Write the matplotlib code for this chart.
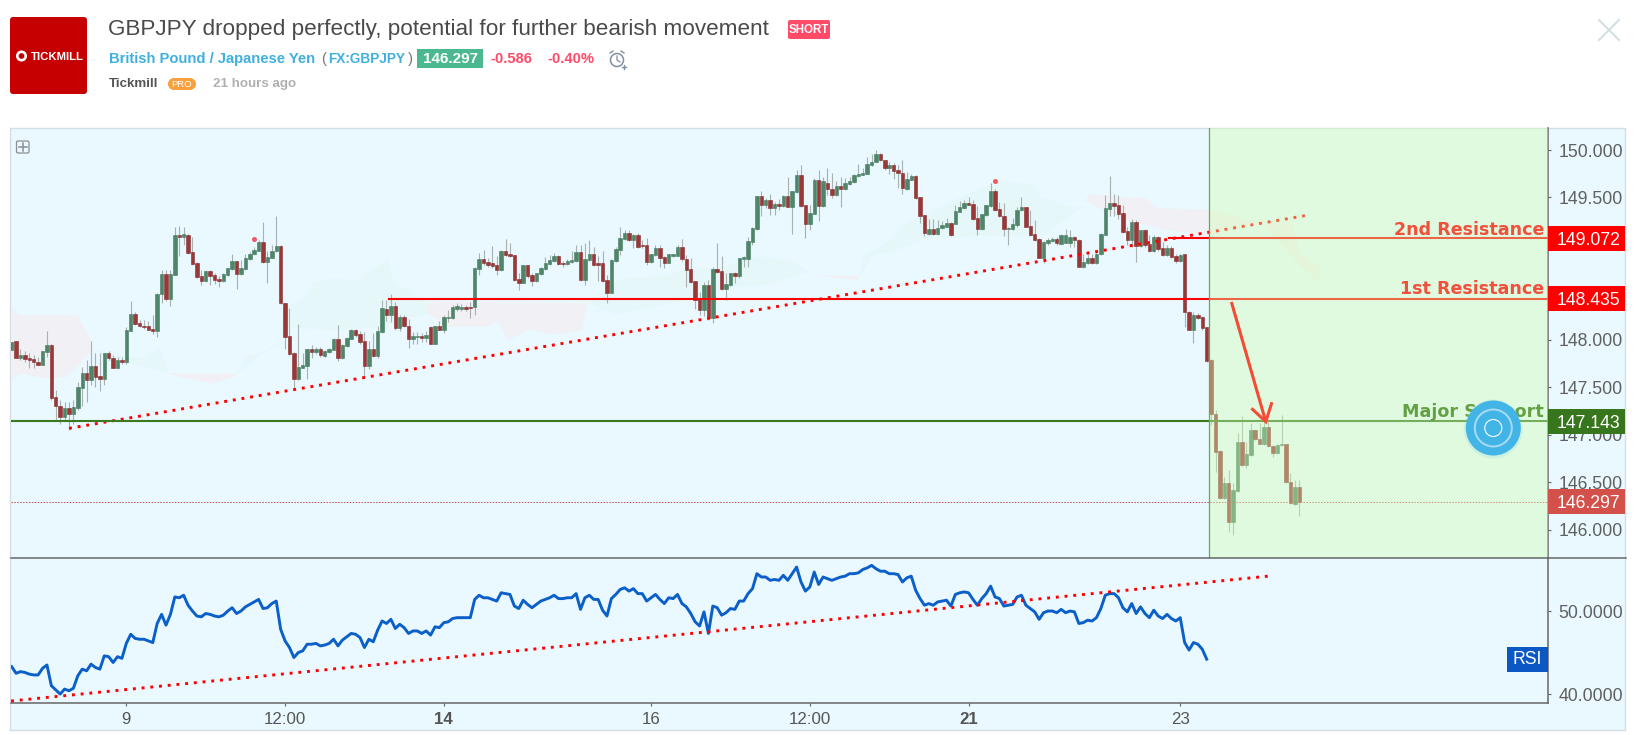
import numpy as np
import matplotlib
matplotlib.use("Agg")
import matplotlib.pyplot as plt
from matplotlib.patches import Rectangle, Circle, FancyBboxPatch

plt.rcParams['font.family'] = ['Liberation Sans', 'DejaVu Sans']

W, H = 1647, 735

# 4h candles
opens = [147.89,147.99,147.81,147.84,147.81,147.80,147.77,147.74,147.87,147.95,
147.40,147.31,147.19,147.28,147.22,147.28,147.49,147.65,147.58,147.73,
147.62,147.59,147.86,147.81,147.71,147.79,147.77,148.09,148.27,148.18,
148.15,148.15,148.12,148.09,148.48,148.69,148.43,148.68,149.10,149.08,
149.11,148.93,148.81,148.67,148.62,148.73,148.68,148.64,148.62,148.68,
148.75,148.83,148.69,148.75,148.85,148.90,148.94,149.03,148.82,148.86,
148.94,148.99,148.39,148.04,147.86,147.59,147.71,147.73,147.90,147.87,
147.90,147.83,147.87,147.89,148.01,147.81,147.94,148.01,148.11,148.06,
147.99,147.73,147.90,147.83,148.08,148.33,148.26,148.36,148.13,148.24,
148.15,148.01,148.03,148.04,148.02,148.14,147.96,148.15,148.11,148.23,
148.23,148.33,148.33,148.35,148.35,148.35,148.75,148.85,148.82,148.81,
148.79,148.74,148.94,148.90,148.89,148.64,148.60,148.79,148.68,148.62,
148.69,148.75,148.80,148.83,148.88,148.81,148.80,148.82,148.83,148.93,
148.63,148.84,148.91,148.81,148.81,148.63,148.49,148.83,148.95,149.06,
149.13,149.05,149.11,149.00,149.00,148.82,148.89,148.97,148.87,148.81,
148.88,148.88,148.98,148.85,148.75,148.62,148.44,148.32,148.58,148.23,
148.75,148.73,148.54,148.58,148.70,148.67,148.85,148.85,149.03,149.17,
149.52,149.42,149.47,149.39,149.43,149.41,149.52,149.40,149.56,149.74,
149.42,149.22,149.33,149.68,149.41,149.65,149.59,149.53,149.62,149.59,
149.64,149.66,149.73,149.74,149.75,149.84,149.87,149.96,149.89,149.81,
149.84,149.79,149.76,149.59,149.68,149.73,149.50,149.32,149.12,149.17,
149.12,149.18,149.19,149.23,149.22,149.35,149.39,149.44,149.43,149.28,
149.17,149.32,149.41,149.57,149.38,149.30,149.17,149.17,149.21,149.37,
149.40,149.20,149.12,149.06,148.86,149.02,149.04,149.06,149.01,149.02,
149.02,149.08,149.05,148.77,148.81,148.86,148.81,148.90,149.11,149.38,
149.44,149.42,149.34,149.15,149.05,149.24,148.99,149.16,149.01,148.94,
149.08,148.97,148.89,148.97,148.88,148.83,148.90,148.29,148.11,148.26,
148.24,148.14,147.79,147.22,146.83,146.34,146.49,146.08,146.41,146.93,
146.68,146.79,147.05,146.96,146.90,147.08,146.88,146.81,146.89,146.91,
146.50,146.27,146.45]
highs = [147.98,147.99,147.91,147.88,147.86,147.84,147.82,147.88,148.09,147.96,
147.47,147.37,147.35,147.35,147.37,147.56,147.72,147.79,147.99,147.86,
147.86,147.86,147.88,147.84,147.82,147.82,148.14,148.41,148.29,148.21,
148.21,148.20,148.26,148.49,148.74,148.74,148.74,149.19,149.20,149.19,
149.12,149.08,148.82,148.74,148.74,148.74,148.70,148.67,148.71,148.76,
148.91,148.83,148.84,148.91,148.93,148.98,149.05,149.24,148.94,149.00,
149.30,149.00,148.39,148.34,147.87,148.17,147.86,147.90,147.95,147.93,
147.93,147.89,147.92,148.02,148.16,147.96,148.03,148.12,148.12,148.09,
148.08,147.99,148.07,148.15,148.42,148.42,148.48,148.40,148.26,148.26,
148.22,148.08,148.08,148.07,148.09,148.15,148.15,148.20,148.26,148.32,
148.37,148.39,148.38,148.37,148.40,148.77,148.92,148.95,148.86,148.99,
148.88,148.95,149.06,149.02,148.89,148.70,148.79,148.79,148.70,148.71,
148.77,148.87,148.89,148.92,148.89,148.83,148.85,148.94,149.00,149.00,
149.02,149.05,148.98,148.88,148.94,148.68,148.85,148.98,149.19,149.16,
149.16,149.12,149.13,149.05,149.07,148.91,149.00,149.00,148.88,148.91,
148.91,149.00,149.06,148.89,148.86,148.62,148.50,148.61,148.63,148.77,
149.02,148.88,148.71,148.71,148.72,148.86,148.88,149.08,149.19,149.52,
149.57,149.49,149.54,149.45,149.48,149.53,149.72,149.57,149.79,149.84,
149.42,149.42,149.70,149.79,149.72,149.81,149.76,149.67,149.72,149.70,
149.72,149.75,149.85,149.81,149.93,149.96,150.00,149.97,149.90,149.87,
149.86,149.84,149.89,149.77,149.75,149.74,149.51,149.32,149.27,149.27,
149.26,149.25,149.28,149.24,149.42,149.46,149.47,149.50,149.47,149.41,
149.33,149.42,149.65,149.59,149.45,149.44,149.19,149.28,149.40,149.51,
149.40,149.37,149.26,149.07,149.04,149.07,149.08,149.08,149.12,149.17,
149.16,149.09,149.06,148.90,148.90,148.91,148.94,149.13,149.53,149.73,
149.54,149.53,149.42,149.19,149.27,149.26,149.16,149.17,149.10,149.10,
149.09,149.03,149.00,148.99,148.90,148.90,148.91,148.30,148.29,148.28,
148.25,148.14,147.80,147.26,146.84,146.56,146.63,146.49,147.02,147.20,
146.93,147.13,147.05,147.13,147.14,147.14,146.89,146.90,147.21,146.91,
146.60,146.53,146.53]
lows = [147.89,147.81,147.79,147.77,147.70,147.70,147.74,147.74,147.82,147.37,
147.16,147.12,147.16,147.05,147.12,147.26,147.30,147.35,147.53,147.51,
147.46,147.53,147.79,147.70,147.70,147.75,147.75,148.09,148.16,148.14,
148.12,148.10,148.06,148.03,148.39,148.41,148.36,148.68,148.88,149.00,
148.90,148.79,148.65,148.58,148.61,148.58,148.59,148.56,148.61,148.67,
148.74,148.54,148.68,148.74,148.84,148.89,148.94,148.81,148.60,148.86,
148.93,148.38,147.91,147.84,147.49,147.58,147.70,147.59,147.81,147.85,
147.82,147.82,147.86,147.89,147.78,147.80,147.93,148.01,148.03,147.96,
147.60,147.69,147.82,147.81,148.07,148.20,148.19,148.10,148.09,148.14,
147.92,147.96,147.96,147.98,147.98,147.96,147.96,148.10,148.07,148.19,
148.22,148.31,148.31,148.30,148.23,148.26,148.68,148.79,148.77,148.76,
148.68,148.73,148.88,148.87,148.62,148.53,148.60,148.65,148.57,148.61,
148.68,148.74,148.79,148.82,148.79,148.77,148.79,148.81,148.82,148.62,
148.58,148.83,148.78,148.62,148.61,148.39,148.49,148.82,148.89,149.05,
149.04,148.97,148.97,148.97,148.79,148.81,148.88,148.77,148.76,148.81,
148.87,148.88,148.83,148.56,148.60,148.33,148.26,148.25,148.21,148.18,
148.71,148.53,148.42,148.57,148.60,148.65,148.77,148.77,149.00,149.16,
149.30,149.39,149.32,149.32,149.37,149.40,149.40,149.12,149.55,149.40,
149.07,149.16,149.33,149.25,149.40,149.53,149.49,149.52,149.40,149.58,
149.63,149.65,149.72,149.74,149.75,149.83,149.87,149.88,149.79,149.75,
149.69,149.60,149.54,149.58,149.68,149.48,149.23,149.09,149.11,149.11,
149.11,149.17,149.19,149.09,149.22,149.35,149.38,149.42,149.26,149.10,
149.16,149.31,149.40,149.36,149.29,149.09,149.00,149.16,149.19,149.36,
149.19,149.09,149.04,148.86,148.81,149.00,149.03,149.00,149.01,149.02,
148.98,148.98,148.77,148.76,148.80,148.80,148.80,148.89,149.10,149.30,
149.30,149.27,149.13,149.00,148.98,148.82,148.98,148.98,148.93,148.93,
148.94,148.88,148.88,148.86,148.81,148.82,148.14,148.10,147.97,148.22,
148.10,147.77,147.10,146.61,146.33,146.33,145.98,145.95,146.40,146.67,
146.65,146.78,146.95,146.90,146.89,146.87,146.77,146.80,146.88,146.49,
146.27,146.26,146.15]
closes = [147.98,147.81,147.84,147.80,147.79,147.77,147.74,147.88,147.95,147.39,
147.30,147.19,147.28,147.22,147.29,147.50,147.65,147.58,147.73,147.61,
147.59,147.86,147.81,147.71,147.79,147.77,148.10,148.27,148.17,148.15,
148.14,148.11,148.09,148.48,148.69,148.43,148.69,149.10,149.08,149.12,
148.92,148.80,148.66,148.62,148.73,148.67,148.63,148.62,148.69,148.76,
148.83,148.69,148.76,148.86,148.91,148.95,149.03,148.82,148.87,148.94,
148.99,148.39,148.03,147.85,147.59,147.72,147.74,147.90,147.87,147.90,
147.84,147.88,147.90,148.01,147.81,147.95,148.02,148.11,148.05,147.98,
147.73,147.90,147.83,148.09,148.34,148.26,148.36,148.13,148.24,148.15,
148.01,148.04,148.04,148.02,148.05,147.96,148.15,148.11,148.24,148.24,
148.35,148.36,148.35,148.33,148.34,148.76,148.85,148.81,148.79,148.78,
148.74,148.94,148.89,148.88,148.63,148.60,148.79,148.67,148.62,148.70,
148.76,148.81,148.84,148.88,148.80,148.80,148.83,148.84,148.93,148.63,
148.85,148.91,148.79,148.79,148.62,148.49,148.84,148.96,149.07,149.13,
149.05,149.11,148.98,148.99,148.82,148.90,148.97,148.86,148.81,148.90,
148.90,148.98,148.85,148.74,148.61,148.42,148.32,148.58,148.23,148.75,
148.72,148.54,148.59,148.70,148.67,148.86,148.87,149.04,149.18,149.52,
149.42,149.47,149.39,149.43,149.41,149.52,149.40,149.57,149.74,149.41,
149.22,149.34,149.68,149.41,149.67,149.59,149.53,149.62,149.59,149.65,
149.67,149.74,149.75,149.76,149.85,149.87,149.96,149.89,149.81,149.84,
149.78,149.76,149.60,149.69,149.73,149.49,149.31,149.13,149.17,149.12,
149.18,149.21,149.23,149.10,149.36,149.40,149.44,149.42,149.27,149.17,
149.33,149.42,149.57,149.37,149.30,149.17,149.18,149.22,149.37,149.40,
149.19,149.10,149.05,148.86,149.03,149.05,149.06,149.02,149.10,149.10,
149.08,149.05,148.77,148.82,148.86,148.81,148.91,149.12,149.39,149.44,
149.41,149.33,149.14,149.05,149.24,148.99,149.16,149.00,148.94,149.08,
148.96,148.89,148.97,148.87,148.83,148.89,148.29,148.11,148.26,148.23,
148.13,147.78,147.22,146.82,146.34,146.49,146.08,146.42,146.93,146.68,
146.80,147.05,146.96,146.91,147.08,146.88,146.81,146.89,146.91,146.50,
146.28,146.45,146.297]

rsi = [43.3,42.5,42.7,42.6,42.4,42.3,42.3,43.1,43.5,41.0,
40.5,40.0,40.6,40.4,40.7,42.2,43.0,42.8,43.6,43.2,
43.0,44.6,44.5,43.8,44.5,44.3,46.1,47.2,46.7,46.6,
46.6,46.4,46.2,48.5,49.6,48.3,49.6,51.7,51.6,51.9,
50.7,50.0,49.4,49.3,49.7,49.6,49.4,49.3,49.5,50.0,
50.4,49.7,50.0,50.5,50.8,51.1,51.4,50.3,50.4,50.9,
51.2,47.8,46.4,45.6,44.4,45.0,45.2,46.0,46.0,46.1,
45.8,45.9,46.1,46.6,45.8,46.5,46.9,47.3,47.2,46.8,
45.6,46.6,46.3,47.7,48.8,48.5,49.0,47.9,48.4,48.0,
47.3,47.6,47.6,47.3,47.6,47.1,48.1,48.0,48.6,48.7,
49.1,49.2,49.2,49.2,49.2,51.4,51.9,51.6,51.6,51.4,
51.2,52.2,52.1,52.0,50.6,50.3,51.3,50.8,50.4,50.8,
51.2,51.4,51.6,51.9,51.5,51.5,51.6,51.6,52.1,50.2,
51.6,51.9,51.4,51.4,50.1,49.4,51.5,52.0,52.6,52.8,
52.4,52.7,52.1,52.1,51.2,51.6,52.0,51.4,50.9,51.6,
51.5,52.0,50.9,50.5,49.7,48.7,48.2,49.9,47.3,50.6,
50.4,49.5,49.8,50.3,50.2,51.2,51.2,52.1,52.7,54.5,
54.1,54.1,53.7,53.8,53.7,54.3,53.7,54.5,55.3,53.5,
52.4,52.9,54.7,53.2,54.1,53.9,53.7,53.9,54.1,54.2,
54.5,54.5,54.6,55.0,55.2,55.5,55.1,54.8,54.8,54.5,
54.5,54.4,53.5,54.0,54.2,52.5,51.5,50.7,50.9,50.7,
51.1,51.2,51.3,50.6,52.0,52.2,52.3,52.2,51.4,50.7,
51.5,52.1,53.0,51.7,51.5,50.6,50.7,50.8,51.7,51.9,
50.7,50.3,49.9,49.0,49.8,50.0,50.0,49.8,50.2,49.8,
50.0,49.9,48.5,48.6,48.9,48.8,49.2,50.3,51.9,52.1,
52.1,51.6,50.4,49.9,50.9,49.7,50.5,49.7,49.2,50.1,
49.4,49.1,49.6,49.1,48.8,49.2,46.2,45.3,46.2,46.0,
45.4,44.2]

# ichimoku cloud pieces: bar index, price
pink_clouds = [
    ([-1,2,15,18,18,12.5,7,2,-1], [148.36,148.26,148.26,148.0,147.87,147.61,147.60,147.65,147.56]),
    ([35.5,51,50.3,45.7,38.2], [147.65,147.65,147.61,147.54,147.61]),
    ([94.1,98,130.4,129.3,122.8,117.5,112.6,110.4,107,99.4,94.1],
     [148.39,148.40,148.39,148.10,148.06,148.11,148.0,148.19,148.14,148.14,148.28]),
    ([180.7,183.3,192,192,183.3], [148.72,148.68,148.68,148.63,148.67]),
    ([243.4,244.5,257.3,259.6,271.3,280.8,290.2,292.1,295,296.5,296.5,295,292.1,283.7,271.3,261.9,252.8],
     [149.46,149.53,149.49,149.39,149.37,149.26,149.25,148.91,148.82,148.79,148.61,148.67,148.79,149.23,149.09,149.16,149.26]),
]
green_clouds = [
    ([18.5,23,26,29.9,33.6,35.5,23.8], [147.89,147.88,147.82,147.82,147.91,147.66,147.79]),
    ([51,53.3,60.1,62.4,66.9,68.4,73.7,77.5,84.3,85.4,86.5,89.6,94.1,94.1,83.2,73,62.4,60.1],
     [147.65,147.82,147.93,148.35,148.46,148.60,148.65,148.61,148.81,148.88,148.60,148.53,148.39,148.28,148.14,148.10,148.14,147.96]),
    ([130.4,138.7,148.5,152.3,159.9,169.7,177.3,180.7,171.2,163.6,152.3,137.2],
     [148.40,148.65,148.67,148.75,148.75,148.88,148.82,148.72,148.58,148.56,148.42,148.27]),
    ([192.4,193.1,197.7,201.4,203,218,224,231.7,233.2,240.7,243.4,237,233.9,219.6,206.7,201.4,194.9],
     [148.67,148.89,149.0,149.16,149.23,149.56,149.68,149.63,149.51,149.39,149.42,149.21,149.09,149.10,149.05,148.96,148.88]),
]

# levels and drawings on the chart
second_res, first_res, major_sup, last_price = 149.072, 148.435, 147.143, 146.297
price_ticks = [146, 146.5, 147, 147.5, 148, 148.5, 149, 149.5, 150]
rsi_ticks = [40, 50]
time_ticks = [26, 62, 98, 145, 181, 217, 265]
time_labels = ['9', '12:00', '14', '16', '12:00', '21', '23']
trend_x, trend_y = [13, 293.5], [147.07, 149.31]
rsi_trend_x, rsi_trend_y = [-0.15, 284.9], [39.16, 54.2]
marker_x, marker_y = [54.9, 223.1], [149.06, 149.67]
arrow_x, arrow_y = [276.6, 284.4], [148.40, 147.14]
arrow_head_x, arrow_head_y = [281.4, 284.4, 285.7], [147.27, 147.14, 147.33]
box_start = 271.6

BG = '#e9f9ff'
xlim = (-0.152, 348.4)
x = np.arange(len(closes))

fig = plt.figure(figsize=(W / 100, H / 100), dpi=100, facecolor='white')


def px_axes(left, top, right, bottom, **kw):
    return fig.add_axes([left / W, 1 - bottom / H, (right - left) / W, (bottom - top) / H], **kw)


# background panel + header, in pixel coordinates
back = px_axes(0, 0, W, H, zorder=0)
back.set_xlim(0, W); back.set_ylim(H, 0); back.axis('off')
back.add_patch(Rectangle((10, 127.5), 1615, 602.5, fc=BG, ec='#d3dde3', lw=1))

back.add_patch(FancyBboxPatch((12, 19), 73, 73, boxstyle='round,pad=2,rounding_size=3', fc='#c60000', ec='none'))
back.add_patch(Circle((21.5, 56), 4.2, fc='none', ec='white', lw=1.9))
back.text(57, 56.5, 'TICKMILL', color='white', fontsize=8.2, fontweight='bold', ha='center', va='center')

back.text(108.5, 29.5, 'GBPJPY dropped perfectly, potential for further bearish movement', color='#4a4a4a',
          fontsize=16.2, ha='left', va='center')
back.add_patch(FancyBboxPatch((788, 20), 42, 19, boxstyle='round,pad=0,rounding_size=2', fc='#ff4a68', ec='none'))
back.text(809, 29.5, 'SHORT', color='white', fontsize=8.3, fontweight='bold', ha='center', va='center')

back.text(109, 59, 'British Pound / Japanese Yen', color='#3fb0e0', fontsize=10.6, fontweight='bold', va='center')
back.text(321, 59, '(', color='#777777', fontsize=10.6, va='center')
back.text(328, 59, 'FX:GBPJPY', color='#3fb0e0', fontsize=9.85, fontweight='bold', va='center')
back.text(408, 59, ')', color='#777777', fontsize=10.6, va='center')
back.add_patch(Rectangle((417, 49), 66, 19, fc='#4bb890', ec='none'))
back.text(450, 59, '146.297', color='white', fontsize=11, fontweight='bold', ha='center', va='center')
back.text(490, 59, '-0.586', color='#ff4a68', fontsize=10.6, fontweight='bold', va='center')
back.text(547, 59, '-0.40%', color='#ff4a68', fontsize=10.6, fontweight='bold', va='center')
back.add_patch(Circle((617, 60), 6.5, fc='none', ec='#7f8fa0', lw=1.1))
back.plot([617, 617, 620], [56, 60, 62], color='#7f8fa0', lw=0.9)
back.plot([610, 613], [53, 51], color='#7f8fa0', lw=1)
back.plot([621, 624], [51, 53], color='#7f8fa0', lw=1)
back.plot([622, 626], [67, 67], color='#7f8fa0', lw=1)
back.plot([624, 624], [65, 69], color='#7f8fa0', lw=1)

back.text(109, 84, 'Tickmill', color='#555555', fontsize=9.6, fontweight='bold', va='center')
back.add_patch(Rectangle((174, 78), 16, 12, fc='#f7a03c', ec='none'))
back.add_patch(Circle((174, 84), 6, fc='#f7a03c', ec='none'))
back.add_patch(Circle((190, 84), 6, fc='#f7a03c', ec='none'))
back.text(182, 84, 'PRO', color='white', fontsize=6.8, ha='center', va='center')
back.text(213, 84, '21 hours ago', color='#b0b0b0', fontsize=9.6, fontweight='bold', va='center')

back.plot([1599, 1619], [20, 40], color='#d4e0e6', lw=1.5)
back.plot([1619, 1599], [20, 40], color='#d4e0e6', lw=1.5)

# price pane
ax = px_axes(11, 128, 1548, 558, zorder=1)
ax.patch.set_visible(False)
ax.set_xlim(*xlim)
ax.set_ylim(145.705, 150.2316)

for cx, cy in pink_clouds:
    ax.fill(cx, cy, color='#f0f0f5', lw=0, zorder=1)
for cx, cy in green_clouds:
    ax.fill(cx, cy, color='#e5f7f8', lw=0, zorder=1)

opens_a, closes_a = np.array(opens), np.array(closes)
up = closes_a >= opens_a
ax.vlines(x, lows, highs, color='#a8b0b0', lw=0.8, zorder=2)
ax.bar(x[up], (closes_a - opens_a)[up], bottom=opens_a[up], width=0.78, color='#4f8569',
       edgecolor='#447a5e', lw=0.4, zorder=3)
ax.bar(x[~up], (closes_a - opens_a)[~up], bottom=opens_a[~up], width=0.78, color='#9a3838',
       edgecolor='#842c2c', lw=0.4, zorder=3)

ax.plot(marker_x, marker_y, 'o', color='#ef5a62', ms=3.6, mew=0, zorder=3.2)
ax.plot(trend_x, trend_y, color='#ff0000', lw=2.1, ls=(0, (1, 2.0)), zorder=3.4)
ax.plot([85.6, xlim[1]], [first_res, first_res], color='#ff0000', lw=1.5, zorder=3.4)
ax.plot([262.5, xlim[1]], [second_res, second_res], color='#ff0000', lw=1.5, zorder=3.4)
ax.plot(xlim, [major_sup, major_sup], color='#3c7a22', lw=1.5, zorder=3.4)
ax.plot(xlim, [last_price, last_price], color='#c0504a', lw=0.7, ls=(0, (1.5, 1.5)), zorder=3.4)

# green box goes over the candles and lines
ax.axvspan(box_start, xlim[1], color='#d2feb1', alpha=0.4, lw=0, zorder=4)
ax.axvline(box_start, color='#6aa84f', lw=0.9, zorder=4.1)

ax.plot(arrow_x, arrow_y, color='#f44c34', lw=2.2, zorder=5, solid_capstyle='butt')
ax.plot(arrow_head_x, arrow_head_y, color='#f44c34', lw=2.2, zorder=5, solid_joinstyle='miter')

label_x = 347.5
ax.text(label_x, second_res + 0.03, '2nd Resistance', color='#f0503c', fontsize=12.6, fontweight='bold',
        family=['DejaVu Sans'], ha='right', va='baseline', zorder=5)
ax.text(label_x, first_res + 0.05, '1st Resistance', color='#f0503c', fontsize=12.6, fontweight='bold',
        family=['DejaVu Sans'], ha='right', va='baseline', zorder=5)
ax.text(label_x, major_sup + 0.045, 'Major Support', color='#64a044', fontsize=12.6, fontweight='bold',
        family=['DejaVu Sans'], ha='right', va='baseline', zorder=5)

ax.yaxis.tick_right()
ax.set_yticks(price_ticks)
ax.set_yticklabels(['%.3f' % t for t in price_ticks])
ax.tick_params(axis='y', length=2.5, width=0.8, color='#666666', labelcolor='#606060', labelsize=12.7, pad=5)
ax.set_xticks([])
for s in ['top', 'left', 'bottom']:
    ax.spines[s].set_visible(False)
ax.spines['right'].set_color('#666666')
ax.spines['right'].set_linewidth(1.1)

# price tags on the axis
tag_right = (1625 - 11) / (1548 - 11)
tag_text = (1620 - 11) / (1548 - 11)
yt = ax.get_yaxis_transform()
for level, col in [(second_res, '#ff0000'), (first_res, '#ff0000'), (major_sup, '#38761d'), (last_price, '#d4504a')]:
    ax.add_patch(Rectangle((1.0, level - 0.132), tag_right - 1.0, 0.264, transform=yt, fc=col, ec='none',
                           clip_on=False, zorder=6))
    ax.text(tag_text, level, '%.3f' % level, transform=yt, color='white', fontsize=12.7, ha='right',
            va='center_baseline', clip_on=False, zorder=7)

# rsi pane
ax2 = px_axes(11, 558, 1548, 702.5, zorder=1)
ax2.patch.set_visible(False)
ax2.set_xlim(*xlim)
ax2.set_ylim(38.98, 56.39)
ax2.plot(np.arange(len(rsi)), rsi, color='#0b5fc8', lw=2.1, zorder=3, solid_joinstyle='round')
ax2.plot(rsi_trend_x, rsi_trend_y, color='#ff0000', lw=2.1, ls=(0, (1, 2.0)), zorder=3.4)
ax2.yaxis.tick_right()
ax2.set_yticks(rsi_ticks)
ax2.set_yticklabels(['%.4f' % t for t in rsi_ticks])
ax2.tick_params(axis='y', length=2.5, width=0.8, color='#666666', labelcolor='#606060', labelsize=12.7, pad=5)
ax2.set_xticks(time_ticks)
ax2.set_xticklabels(time_labels)
ax2.tick_params(axis='x', length=2.5, width=0.8, color='#666666', labelcolor='#555555', labelsize=12.2, pad=4.5)
for lab in ax2.get_xticklabels():
    if lab.get_text() in ('14', '21'):
        lab.set_fontweight('bold')
ax2.spines['left'].set_visible(False)
ax2.spines['top'].set_visible(False)
ax2.spines['right'].set_color('#666666')
ax2.spines['right'].set_linewidth(1.1)
ax2.spines['bottom'].set_color('#666666')
ax2.spines['bottom'].set_linewidth(1.1)

# things sitting on top of the chart
top = px_axes(0, 0, W, H, zorder=3)
top.patch.set_visible(False)
top.set_xlim(0, W); top.set_ylim(H, 0); top.axis('off')
top.plot([11, 1626], [558, 558], color='#666666', lw=1.1)
top.add_patch(FancyBboxPatch((16.5, 141), 12.5, 12, boxstyle='round,pad=0,rounding_size=1.5', fc='none',
                             ec='#8a8f92', lw=0.9))
top.plot([18.5, 27], [147, 147], color='#8a8f92', lw=1.1)
top.plot([22.8, 22.8], [143, 151], color='#8a8f92', lw=1.1)
top.add_patch(Circle((1493.3, 429), 29.5, fc='#42b4e6', ec='none', alpha=0.12))
top.add_patch(Circle((1493.3, 428), 27.5, fc='#42b4e6', ec='none'))
top.add_patch(Circle((1493.3, 428), 18.5, fc='none', ec='#a9dcf3', lw=1.4))
top.add_patch(Circle((1493.3, 428), 8.5, fc='none', ec='white', lw=0.8))
top.add_patch(Rectangle((1506.5, 646.5), 41.5, 25, fc='#0b57c4', ec='none'))
top.text(1527, 659.5, 'RSI', color='white', fontsize=12.7, ha='center', va='center')

fig.savefig('out.png', dpi=100, facecolor='white')
